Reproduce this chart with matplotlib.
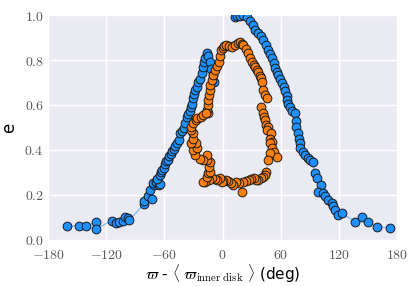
import numpy as np
import matplotlib
matplotlib.use('Agg')
from matplotlib import pyplot as plt
from matplotlib.ticker import FuncFormatter

plt.rcParams['mathtext.fontset'] = 'cm'
plt.rcParams['font.family'] = ['DejaVu Sans']

# outer planet, rising branch (x = varpi offset in deg, e)
blue_rise_x = [-160, -148, -141, -130, -130, -114, -110, -107, -103, -101, -98, -96,
               -81, -81, -77, -73, -75, -71, -72, -69, -66, -64, -68, -65, -63, -62,
               -60, -59, -58, -56, -55, -53, -52, -50, -49, -47, -45, -44, -42, -40,
               -39, -37, -36, -34, -32, -31, -30, -29, -28, -26, -25, -23, -21, -20,
               -19, -18, -16, -15, -13, -12, -10, -9]
blue_rise_e = [0.062, 0.062, 0.061, 0.081, 0.050, 0.086, 0.074, 0.080, 0.084, 0.100, 0.096, 0.088,
               0.160, 0.175, 0.196, 0.182, 0.222, 0.244, 0.252, 0.256, 0.244, 0.250, 0.272, 0.290, 0.300, 0.311,
               0.322, 0.336, 0.350, 0.357, 0.372, 0.380, 0.395, 0.405, 0.418, 0.430, 0.445, 0.475, 0.485, 0.497,
               0.520, 0.547, 0.560, 0.575, 0.590, 0.605, 0.630, 0.650, 0.667, 0.680, 0.700, 0.715, 0.740, 0.770,
               0.790, 0.810, 0.830, 0.820, 0.790, 0.760, 0.735, 0.700]

# falling branch
blue_fall_x = [13, 15, 18, 21, 25, 28, 31, 34, 37, 40, 42, 45, 47, 49, 51, 53, 54, 56, 57, 59,
               61, 63, 64, 66, 66, 68, 70, 72, 75, 76, 76, 78, 79, 80, 80, 83, 85, 88, 90, 93,
               95, 97, 102, 98, 104, 106, 109, 113, 114, 116, 119, 123, 137, 144, 150, 159, 173]
blue_fall_e = [0.990, 0.995, 0.996, 0.998, 0.990, 0.975, 0.955, 0.935, 0.920, 0.905, 0.890, 0.865,
               0.845, 0.825, 0.810, 0.785, 0.764, 0.745, 0.733, 0.715, 0.697, 0.680, 0.660, 0.640,
               0.622, 0.605, 0.590, 0.575, 0.563, 0.530, 0.500, 0.475, 0.450, 0.430, 0.408, 0.390,
               0.378, 0.365, 0.356, 0.348, 0.297, 0.275, 0.244, 0.215, 0.208, 0.195, 0.178, 0.164,
               0.150, 0.133, 0.110, 0.119, 0.081, 0.104, 0.081, 0.058, 0.053]

# inner planet loop
orange_x = [-15, -16, -15, -15, -14, -13, -13, -11, -10, -8, -6, -4, -3, -2, 0, 2, 4, 7, 10, 13,
            16, 18, 20, 21, 24, 26, 28, 30, 32, 34, 36, 37, 39, 40, 41, 42, 44, 46, 40, 42,
            43, 44, 45, 47, 46, 50, 49, 51, 49, 51, 53, 56, 49, 47, 45, 44, 42, 40, 37, 35,
            32, 29, 27, 24, 21, 20, 17, 14, 11, 9, 6, 4, 1, -1, -3, -6, -8, -11, -14, -18,
            -20, -16, -15, -13, -14, -13, -16, -16, -20, -23, -28, -30, -26, -27, -33, -30, -30, -32,
            -32, -30, -27, -26, -22, -20, -17]
orange_e = [0.563, 0.578, 0.600, 0.622, 0.645, 0.667, 0.690, 0.711, 0.735, 0.756, 0.775, 0.793,
            0.820, 0.844, 0.855, 0.862, 0.867, 0.862, 0.858, 0.868, 0.875, 0.880, 0.872, 0.867,
            0.850, 0.830, 0.810, 0.790, 0.778, 0.770, 0.755, 0.747, 0.730, 0.720, 0.700, 0.667,
            0.645, 0.630, 0.590, 0.563, 0.545, 0.533, 0.510, 0.502, 0.489, 0.475, 0.450, 0.437,
            0.430, 0.408, 0.390, 0.370, 0.385, 0.356, 0.304, 0.290, 0.281, 0.275, 0.267, 0.267,
            0.274, 0.272, 0.267, 0.262, 0.259, 0.215, 0.255, 0.259, 0.244, 0.252, 0.262, 0.267,
            0.262, 0.259, 0.275, 0.267, 0.272, 0.274, 0.268, 0.259, 0.259, 0.282, 0.296, 0.304,
            0.326, 0.348, 0.356, 0.378, 0.356, 0.360, 0.378, 0.400, 0.410, 0.430, 0.430, 0.450,
            0.474, 0.490, 0.504, 0.520, 0.533, 0.540, 0.548, 0.556, 0.563]

x_ticks = [-180, -120, -60, 0, 60, 120, 180]
y_ticks = [0.0, 0.2, 0.4, 0.6, 0.8, 1.0]

blue = '#1E90FF'
orange = '#FF7F0E'

fig = plt.figure(figsize=(4.15, 2.86), dpi=100)
ax = fig.add_axes([0.1157, 0.161, 0.841, 0.7865])
ax.set_facecolor('#EAEAF2')
for s in ax.spines.values():
    s.set_visible(False)
ax.grid(True, color='white', lw=1.0)
ax.set_axisbelow(True)

for xs, es in [(blue_rise_x, blue_rise_e), (blue_fall_x, blue_fall_e)]:
    ax.plot(xs, es, '-', color=blue, lw=1, alpha=0.5, zorder=2)
    ax.plot(xs, es, 'o', color=blue, ms=6.3, mec='0.1', mew=0.7, zorder=3)
ax.plot(orange_x, orange_e, '-', color=orange, lw=1, alpha=0.5, zorder=4)
ax.plot(orange_x, orange_e, 'o', color=orange, ms=6.3, mec='0.1', mew=0.7, zorder=5)

ax.set_xlim(-180, 180)
ax.set_ylim(0, 1.0)
ax.set_xticks(x_ticks)
ax.set_yticks(y_ticks)
ax.xaxis.set_major_formatter(FuncFormatter(lambda v, p: r'$%d$' % v))
ax.yaxis.set_major_formatter(FuncFormatter(lambda v, p: r'$%.1f$' % v))
ax.tick_params(length=0, labelsize=10, labelcolor='0.35')
ax.tick_params(axis='x', pad=6)
ax.tick_params(axis='y', pad=3)

ax.set_xlabel(r'$\varpi$ - $\langle\ \varpi_{\rm inner\ disk}\ \rangle$ (deg)', fontsize=11)
ax.xaxis.set_label_coords(0.5, -0.1)
ax.set_ylabel('e', fontsize=12)
ax.yaxis.set_label_coords(-0.085, 0.5)

fig.savefig('out.png', dpi=100)
